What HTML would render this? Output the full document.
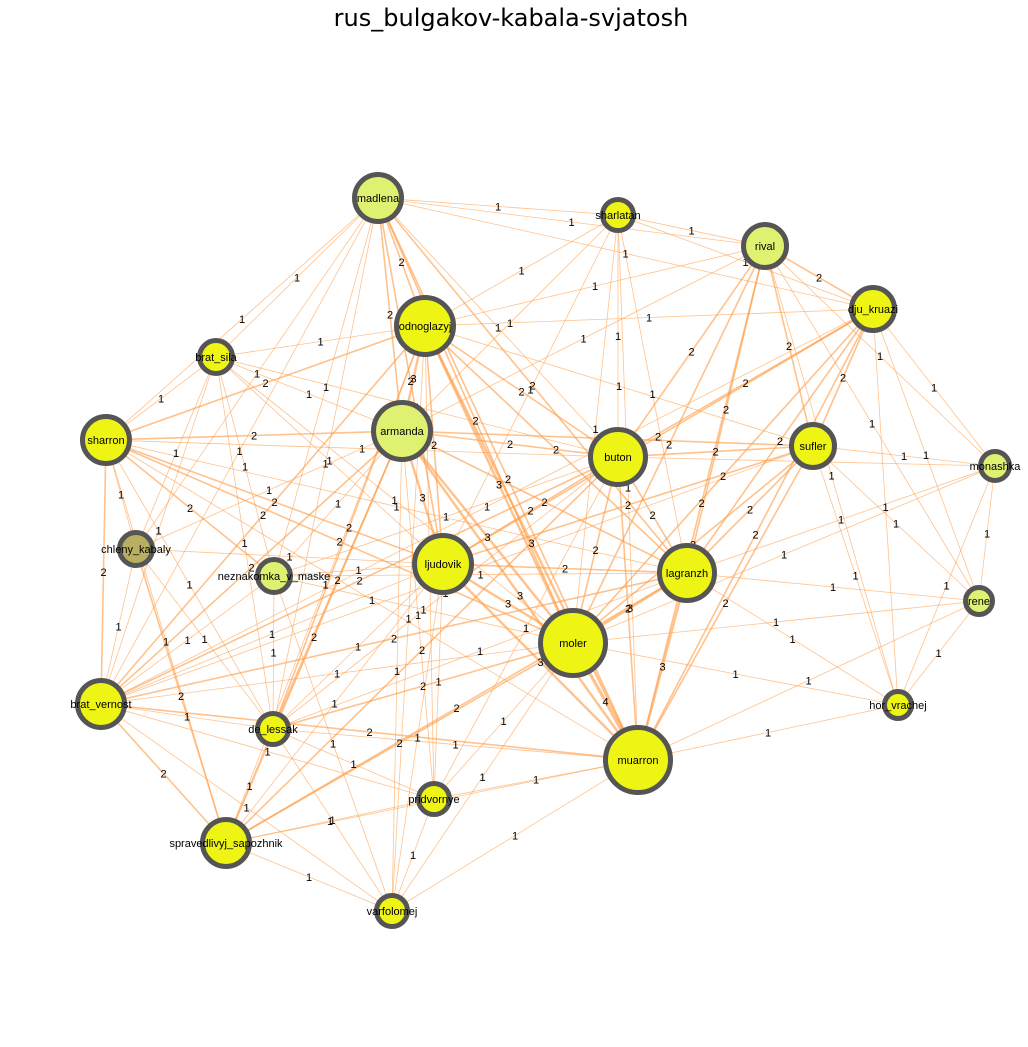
<!DOCTYPE html>
<html><head><meta charset="utf-8">
<style>
html,body{margin:0;padding:0;background:#fff;}
svg{display:block;font-family:"DejaVu Sans","Liberation Sans",sans-serif;}
.lbl{font-family:"Liberation Sans",sans-serif;}
</style></head>
<body>
<svg id="chart" width="1028" height="1047" viewBox="0 0 1028 1047">
<text x="511" y="26" text-anchor="middle" font-size="24" fill="#000">rus_bulgakov-kabala-svjatosh</text>
<g id="edges"></g>
<g id="elabels"></g>
<g id="nodes"></g>
</svg>
<script>
const nodeNames=["madlena","sharlatan","rival","dju_kruazi","odnoglazyj","brat_sila","armanda","sharron","buton","sufler","monashka","chleny_kabaly","neznakomka_v_maske","ljudovik","lagranzh","rene","moler","brat_vernost","hor_vrachej","de_lessak","muarron","pridvornye","spravedlivyj_sapozhnik","varfolomej"];
const nodeX=[378,618,765,873,425,216,402,106,618,813,995,136,274,443,687,979,573,101,898,273,638,434,226,392];
const nodeY=[198,215,246,309,326,357,431,440,457,446,466,549,576,564,573,601,643,704,705,729,760,799,843,911];
const nodeSize=[26,18,24,24,31,19,31,26,30,24,17,19,19,31,30,16,35,26,16,18,35,18,26,18];
const nodeFill=["#e0f070","#eef514","#e0f070","#eef514","#eef514","#eef514","#e0f070","#eef514","#eef514","#eef514","#e0f070","#b8b060","#e0f070","#eef514","#eef514","#e0f070","#eef514","#eef514","#eef514","#eef514","#eef514","#eef514","#eef514","#eef514"];
const edgeSrc=[];const edgeDst=[];const edgeW=[];
const edgeList=`madlena sharlatan 1,madlena rival 1,madlena dju_kruazi 1,madlena odnoglazyj 2,madlena armanda 2,madlena ljudovik 2,madlena moler 2,madlena muarron 2,madlena buton 1,madlena brat_sila 1,madlena sharron 1,madlena chleny_kabaly 1,madlena neznakomka_v_maske 1,madlena brat_vernost 1,madlena de_lessak 1,madlena lagranzh 2,
sharlatan buton 1,sharlatan rival 1,sharlatan odnoglazyj 1,sharlatan armanda 1,sharlatan moler 1,sharlatan lagranzh 1,sharlatan dju_kruazi 1,sharlatan muarron 1,sharlatan ljudovik 1,
rival dju_kruazi 2,rival sufler 2,rival buton 2,rival moler 2,rival muarron 2,rival lagranzh 2,rival odnoglazyj 1,rival armanda 1,rival monashka 1,rival hor_vrachej 1,rival rene 1,
dju_kruazi sufler 2,dju_kruazi buton 2,dju_kruazi moler 2,dju_kruazi muarron 2,dju_kruazi lagranzh 2,dju_kruazi odnoglazyj 1,dju_kruazi monashka 1,dju_kruazi hor_vrachej 1,dju_kruazi rene 1,dju_kruazi ljudovik 2,dju_kruazi brat_vernost 1,
odnoglazyj armanda 3,odnoglazyj ljudovik 2,odnoglazyj moler 3,odnoglazyj muarron 3,odnoglazyj buton 2,odnoglazyj lagranzh 2,odnoglazyj sharron 2,odnoglazyj brat_sila 1,odnoglazyj brat_vernost 2,odnoglazyj de_lessak 2,odnoglazyj pridvornye 1,odnoglazyj varfolomej 1,odnoglazyj sufler 1,odnoglazyj spravedlivyj_sapozhnik 1,
brat_sila armanda 1,brat_sila sharron 1,brat_sila ljudovik 1,brat_sila moler 1,brat_sila chleny_kabaly 1,brat_sila neznakomka_v_maske 1,brat_sila brat_vernost 1,brat_sila de_lessak 1,brat_sila buton 1,
armanda sharron 2,armanda buton 2,armanda ljudovik 3,armanda moler 3,armanda muarron 3,armanda lagranzh 2,armanda sufler 2,armanda de_lessak 2,armanda spravedlivyj_sapozhnik 2,armanda brat_vernost 2,armanda pridvornye 1,armanda varfolomej 1,armanda neznakomka_v_maske 1,armanda chleny_kabaly 1,
sharron buton 1,sharron ljudovik 2,sharron moler 2,sharron lagranzh 1,sharron brat_vernost 2,sharron chleny_kabaly 1,sharron neznakomka_v_maske 2,sharron spravedlivyj_sapozhnik 1,sharron de_lessak 1,sharron muarron 1,
buton sufler 2,buton ljudovik 2,buton moler 2,buton muarron 2,buton lagranzh 2,buton neznakomka_v_maske 1,buton de_lessak 1,buton pridvornye 1,buton monashka 1,buton brat_vernost 2,buton spravedlivyj_sapozhnik 2,
sufler lagranzh 2,sufler moler 2,sufler muarron 2,sufler ljudovik 2,sufler monashka 1,sufler rene 1,sufler hor_vrachej 1,sufler brat_vernost 1,
monashka lagranzh 1,monashka rene 1,monashka hor_vrachej 1,monashka moler 1,
chleny_kabaly brat_vernost 1,chleny_kabaly spravedlivyj_sapozhnik 2,chleny_kabaly ljudovik 1,chleny_kabaly de_lessak 1,
neznakomka_v_maske ljudovik 1,neznakomka_v_maske moler 1,neznakomka_v_maske lagranzh 1,neznakomka_v_maske brat_vernost 1,neznakomka_v_maske de_lessak 1,neznakomka_v_maske varfolomej 1,
ljudovik moler 3,ljudovik muarron 3,ljudovik lagranzh 2,ljudovik brat_vernost 1,ljudovik de_lessak 1,ljudovik pridvornye 1,ljudovik spravedlivyj_sapozhnik 1,ljudovik varfolomej 1,
lagranzh moler 3,lagranzh muarron 3,lagranzh rene 1,lagranzh hor_vrachej 1,lagranzh brat_vernost 2,lagranzh de_lessak 1,lagranzh spravedlivyj_sapozhnik 2,
rene moler 1,rene muarron 1,rene hor_vrachej 1,
moler muarron 4,moler brat_vernost 1,moler de_lessak 2,moler pridvornye 1,moler spravedlivyj_sapozhnik 2,moler hor_vrachej 1,moler varfolomej 1,
brat_vernost de_lessak 1,brat_vernost muarron 2,brat_vernost spravedlivyj_sapozhnik 2,brat_vernost pridvornye 1,brat_vernost varfolomej 1,
hor_vrachej muarron 1,de_lessak muarron 1,de_lessak pridvornye 1,de_lessak spravedlivyj_sapozhnik 1,de_lessak varfolomej 1,
muarron pridvornye 1,muarron spravedlivyj_sapozhnik 1,muarron varfolomej 1,pridvornye spravedlivyj_sapozhnik 1,pridvornye varfolomej 1,spravedlivyj_sapozhnik varfolomej 1`;
edgeList.split(",").forEach(s=>{const p=s.trim().split(/\s+/);edgeSrc.push(p[0]);edgeDst.push(p[1]);edgeW.push(+p[2]);});

const NS="http://www.w3.org/2000/svg";
const gE=document.getElementById("edges"),gL=document.getElementById("elabels"),gN=document.getElementById("nodes");
const idx=n=>nodeNames.indexOf(n);
const widthOf=w=>[0,0.8,1.6,2.4,3.2][w]||w;
for(let i=0;i<edgeSrc.length;i++){
  const a=idx(edgeSrc[i]),b=idx(edgeDst[i]);
  const l=document.createElementNS(NS,"line");
  
  
  l.setAttribute("x1",nodeX[a]);l.setAttribute("y1",nodeY[a]);
  l.setAttribute("x2",nodeX[b]);l.setAttribute("y2",nodeY[b]);
  l.setAttribute("stroke","#ff9a40");l.setAttribute("stroke-opacity","0.6");
  l.setAttribute("stroke-width",widthOf(edgeW[i]));
  gE.appendChild(l);
  const t=document.createElementNS(NS,"text");
  
  
  t.setAttribute("class","lbl");
  t.setAttribute("x",(nodeX[a]+nodeX[b])/2);t.setAttribute("y",(nodeY[a]+nodeY[b])/2+4);
  t.setAttribute("text-anchor","middle");t.setAttribute("font-size","11");t.setAttribute("fill","#000");
  t.textContent=edgeW[i];
  gL.appendChild(t);
}
for(let i=0;i<nodeNames.length;i++){
  const c=document.createElementNS(NS,"circle");
  
  
  c.setAttribute("cx",nodeX[i]);c.setAttribute("cy",nodeY[i]);c.setAttribute("r",nodeSize[i]-2.5);
  c.setAttribute("fill",nodeFill[i]);c.setAttribute("stroke","#555555");c.setAttribute("stroke-width","5");
  gN.appendChild(c);
  const t=document.createElementNS(NS,"text");
  
  
  t.setAttribute("class","lbl");
  t.setAttribute("x",nodeX[i]);t.setAttribute("y",nodeY[i]+4);
  t.setAttribute("text-anchor","middle");t.setAttribute("font-size","11");t.setAttribute("fill","#000");
  t.textContent=nodeNames[i];
  gN.appendChild(t);
}
</script>
</body></html>
